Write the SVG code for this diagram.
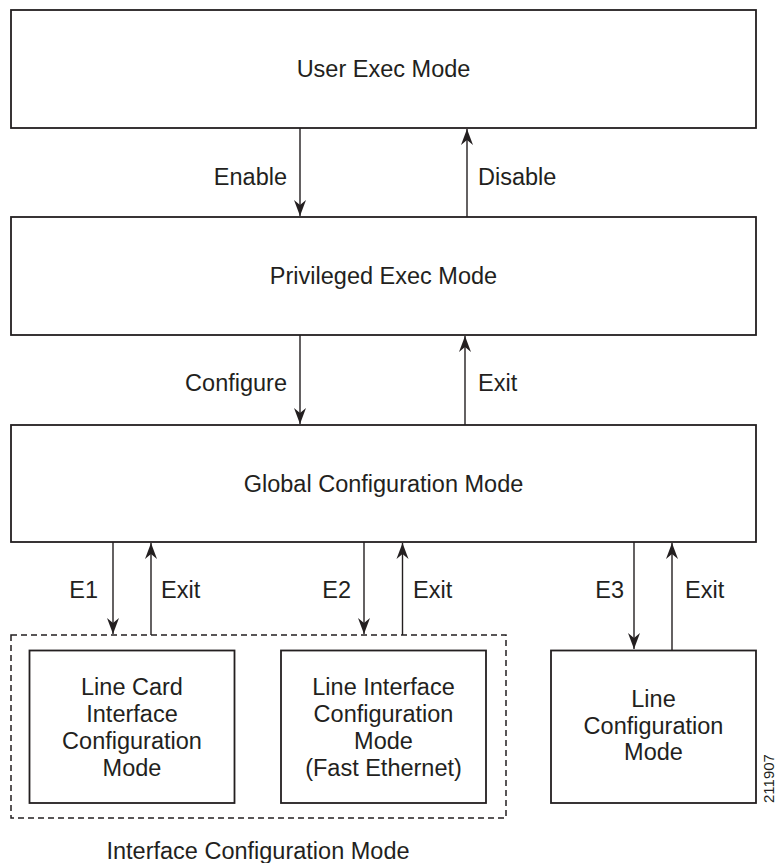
<svg xmlns="http://www.w3.org/2000/svg" width="776" height="863" viewBox="0 0 776 863">
<defs>
<style>
.box{fill:#fff;stroke:#231f20;stroke-width:1.8}
.dash{fill:none;stroke:#231f20;stroke-width:1.5;stroke-dasharray:6 4}
.ln{fill:none;stroke:#231f20;stroke-width:1.4}
.t{font-family:"Liberation Sans",Arial,Helvetica,sans-serif;font-size:23.5px;fill:#231f20}
.c{text-anchor:middle}
.e{text-anchor:end}
.id{font-family:"Liberation Sans",Arial,sans-serif;font-size:15px;fill:#231f20}
</style>
<marker id="ah" viewBox="-17 -7 18 14" markerWidth="18" markerHeight="14" refX="0" refY="0" markerUnits="userSpaceOnUse" orient="auto">
<path d="M0,0 L-16,-6 L-11,0 L-16,6 Z" fill="#231f20"/>
</marker>
</defs>
<g id="user-exec"><rect class="box" x="11" y="10" width="745" height="118"/><text class="t c" x="383.5" y="77">User Exec Mode</text></g>
<g id="priv-exec"><rect class="box" x="11" y="217" width="745" height="118"/><text class="t c" x="383.5" y="284">Privileged Exec Mode</text></g>
<g id="global-config"><rect class="box" x="11" y="425" width="745" height="117"/><text class="t c" x="383.5" y="492">Global Configuration Mode</text></g>
<g id="interface-config"><rect class="dash" x="11" y="635" width="495" height="183"/><text class="t c" x="258" y="859">Interface Configuration Mode</text></g>
<g id="line-card"><rect class="box" x="29.5" y="650.5" width="205" height="152.5"/><text class="t c" x="132" y="695">Line Card</text><text class="t c" x="132" y="722">Interface</text><text class="t c" x="132" y="749">Configuration</text><text class="t c" x="132" y="776">Mode</text></g>
<g id="line-interface"><rect class="box" x="281" y="650.5" width="205" height="152.5"/><text class="t c" x="383.5" y="695">Line Interface</text><text class="t c" x="383.5" y="722">Configuration</text><text class="t c" x="383.5" y="749">Mode</text><text class="t c" x="383.5" y="776">(Fast Ethernet)</text></g>
<g id="line-config"><rect class="box" x="551" y="650.5" width="205" height="152.5"/><text class="t c" x="653.5" y="707">Line</text><text class="t c" x="653.5" y="734">Configuration</text><text class="t c" x="653.5" y="760">Mode</text></g>
<g id="connectors">
<path class="ln" d="M300,128 V216" marker-end="url(#ah)"/>
<path class="ln" d="M467,217 V129" marker-end="url(#ah)"/>
<path class="ln" d="M300,335 V424" marker-end="url(#ah)"/>
<path class="ln" d="M465,425 V336" marker-end="url(#ah)"/>
<path class="ln" d="M113,542 V634" marker-end="url(#ah)"/>
<path class="ln" d="M151,635 V543" marker-end="url(#ah)"/>
<path class="ln" d="M364,542 V634" marker-end="url(#ah)"/>
<path class="ln" d="M402.5,635 V543" marker-end="url(#ah)"/>
<path class="ln" d="M634,542 V649" marker-end="url(#ah)"/>
<path class="ln" d="M672,650 V543" marker-end="url(#ah)"/>
<text class="t e" x="287" y="185">Enable</text>
<text class="t" x="478" y="185">Disable</text>
<text class="t e" x="287" y="391">Configure</text>
<text class="t" x="478" y="391">Exit</text>
<text class="t e" x="98" y="598">E1</text>
<text class="t" x="161" y="598">Exit</text>
<text class="t e" x="351" y="598">E2</text>
<text class="t" x="413" y="598">Exit</text>
<text class="t e" x="624" y="598">E3</text>
<text class="t" x="685" y="598">Exit</text>
</g>
<text class="id" transform="translate(774,803) rotate(-90)">211907</text>
</svg>
